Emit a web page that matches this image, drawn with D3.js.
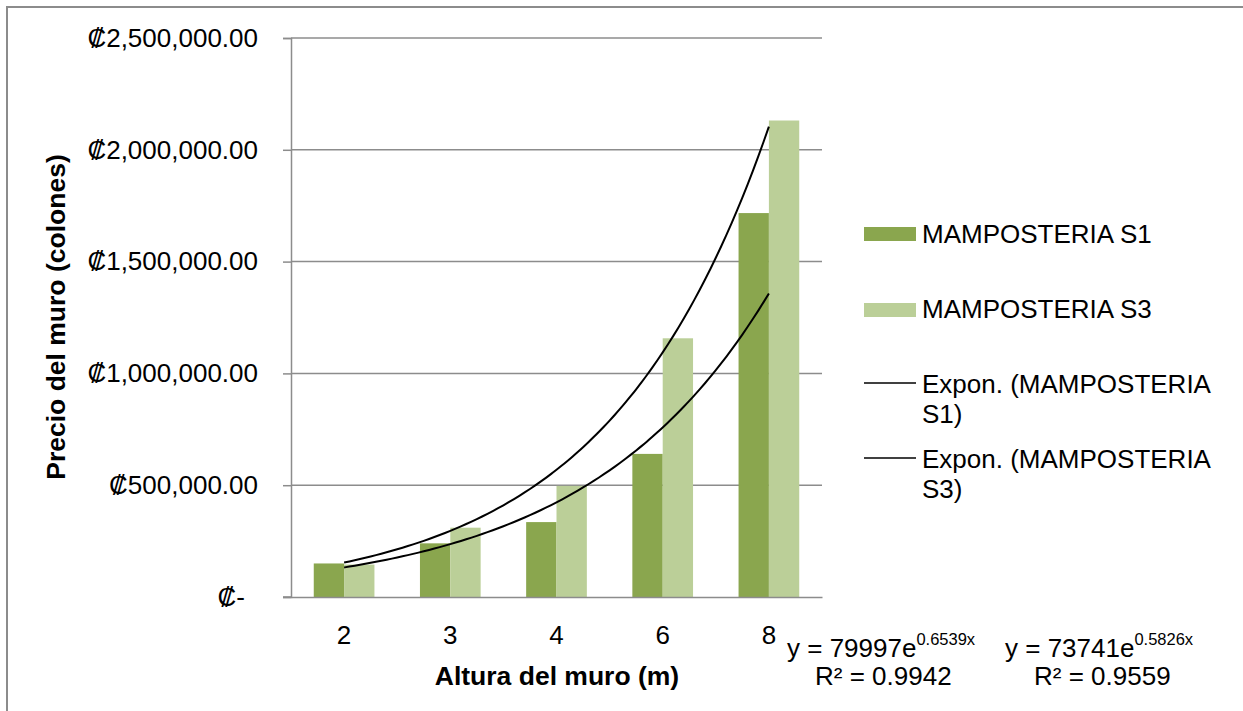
<!DOCTYPE html>
<html><head><meta charset="utf-8">
<script src="https://cdn.jsdelivr.net/npm/d3@7"></script>
<style>body{margin:0;background:#fff}svg{display:block;font-family:"Liberation Sans",Arial,sans-serif}</style>
</head><body>
<svg id="c" width="1243" height="711"></svg>
<script>
const categories = ["2","3","4","6","8"];
const seriesNames = ["MAMPOSTERIA S1","MAMPOSTERIA S3"];
const s1Values = [150000, 240000, 335000, 640000, 1717000];
const s3Values = [145000, 310000, 497000, 1157000, 2131000];
const yTicks = [0, 500000, 1000000, 1500000, 2000000, 2500000];
const trendS1 = {a: 73741, b: 0.5826, r2: "0.9559"};
const trendS3 = {a: 79997, b: 0.6539, r2: "0.9942"};
const colors = ["#8aa64e", "#bbcf98"];

const FS = 26;
const svg = d3.select("#c");
const L = 291, R = 822, T = 38, B = 597;

svg.append("rect").attr("x",7).attr("y",7).attr("width",1300).attr("height",800)
  .attr("fill","none").attr("stroke","#8c8c8c").attr("stroke-width",2);

const x = d3.scaleBand().domain(categories).range([L,R]).paddingInner(0).paddingOuter(0);
const y = d3.scaleLinear().domain([0,2500000]).range([B,T]);
const barW = x.bandwidth()/3.5;

// gridlines
svg.append("g").selectAll("line").data(yTicks.slice(1)).join("line")
  .attr("x1",L).attr("x2",R).attr("y1",d=>y(d)).attr("y2",d=>y(d))
  .attr("stroke","#8c8c8c").attr("stroke-width",1.5);

// y axis
const fmt = d => d===0 ? "₡-" : "₡" + d3.format(",.2f")(d);
const yAxis = svg.append("g").attr("transform",`translate(${L},0)`)
  .call(d3.axisLeft(y).tickValues(yTicks).tickSize(8).tickPadding(25).tickFormat(fmt));
yAxis.attr("font-size",FS).attr("font-family",null);
yAxis.select(".domain").attr("stroke","#8c8c8c").attr("stroke-width",1.5);
yAxis.selectAll(".tick line").attr("stroke","#8c8c8c").attr("stroke-width",1.5);
yAxis.selectAll(".tick text").style("font-size",FS+"px").attr("fill","#000");
yAxis.selectAll(".tick").filter(d=>d===0).select("text").attr("dx",-13);

// bars
const all = [s1Values, s3Values];
all.forEach((vals,si)=>{
  svg.append("g").selectAll("rect").data(vals).join("rect")
    .attr("x",(d,i)=>x(categories[i]) + x.bandwidth()/2 - barW + si*barW)
    .attr("y",d=>y(d)).attr("width",barW).attr("height",d=>B-y(d))
    .attr("fill",colors[si]);
});

// x axis
const xAxis = svg.append("g").attr("transform",`translate(0,${B})`)
  .call(d3.axisBottom(x).tickSize(0).tickPadding(29));
xAxis.attr("font-size",FS).attr("font-family",null);
xAxis.select(".domain").attr("stroke","#8c8c8c").attr("stroke-width",1.5);
xAxis.selectAll(".tick text").style("font-size",FS+"px").attr("fill","#000");
svg.append("line").attr("x1",283).attr("x2",L).attr("y1",B).attr("y2",B)
  .attr("stroke","#8c8c8c").attr("stroke-width",1.5);

// trendlines (category index 1..5)
const xi = d3.scaleLinear().domain([1,categories.length])
  .range([x(categories[0])+x.bandwidth()/2, x(categories[categories.length-1])+x.bandwidth()/2]);
[trendS1, trendS3].forEach(t=>{
  const pts = d3.range(1, 5.001, 0.05).map(v=>[v, t.a*Math.exp(t.b*v)]);
  svg.append("path").datum(pts)
    .attr("d", d3.line().x(d=>xi(d[0])).y(d=>y(d[1])).curve(d3.curveMonotoneX))
    .attr("fill","none").attr("stroke","#000").attr("stroke-width",2);
});

// axis titles
svg.append("text").attr("x",557).attr("y",685).attr("text-anchor","middle")
  .style("font-size","26.5px").attr("font-weight","bold").text("Altura del muro (m)");
svg.append("text").attr("transform","translate(65,317) rotate(-90)").attr("text-anchor","middle")
  .style("font-size","26.5px").attr("font-weight","bold").text("Precio del muro (colones)");

// trend equations
function eq(x1, x2, yb, t){
  const g = svg.append("text").attr("x",x1).attr("y",yb).style("font-size",FS+"px");
  g.append("tspan").text("y = " + t.a + "e");
  g.append("tspan").style("font-size","16.5px").attr("dy",-12).text(t.b + "x");
  svg.append("text").attr("x",x2).attr("y",yb+28).style("font-size",FS+"px")
    .text("R² = " + t.r2);
}
eq(787, 815, 657, trendS3);
eq(1005, 1034, 657, trendS1);

// legend
const lg = svg.append("g");
const items = [
  {type:"rect", color:colors[0], lines:[seriesNames[0]], y:234, tb:243},
  {type:"rect", color:colors[1], lines:[seriesNames[1]], y:310, tb:318},
  {type:"line", lines:["Expon. (MAMPOSTERIA", "S1)"], y:383, tb:393},
  {type:"line", lines:["Expon. (MAMPOSTERIA", "S3)"], y:458, tb:468}
];
items.forEach(it=>{
  if(it.type==="rect"){
    lg.append("rect").attr("x",864).attr("y",it.y-7).attr("width",52).attr("height",14).attr("fill",it.color);
  } else {
    lg.append("line").attr("x1",864).attr("x2",916).attr("y1",it.y).attr("y2",it.y)
      .attr("stroke","#000").attr("stroke-width",1.5);
  }
  const t = lg.append("text").attr("x",922).attr("y",it.tb).style("font-size",FS+"px");
  it.lines.forEach((l,i)=>{
    t.append("tspan").attr("x",922).attr("dy", i===0?0:30).text(l);
  });
});
</script>
</body></html>
